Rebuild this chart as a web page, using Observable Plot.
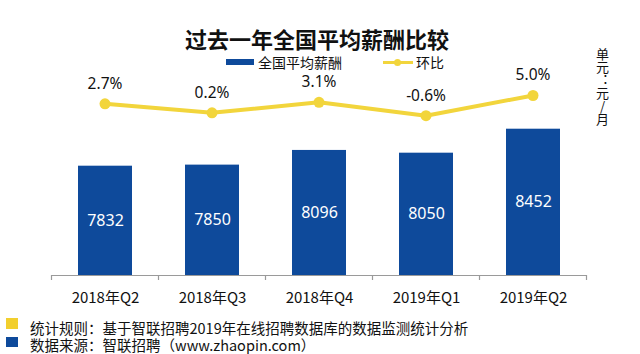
<!DOCTYPE html>
<html><head><meta charset="utf-8">
<script src="https://cdn.jsdelivr.net/npm/d3@7"></script>
<script src="https://cdn.jsdelivr.net/npm/@observablehq/plot@0.6"></script>
<style>
body{margin:0;background:#fff;}
#wrap{position:relative;width:640px;height:354px;overflow:hidden;font-family:"Noto Sans CJK SC","Noto Sans",sans-serif;color:#111;}
#wrap svg{position:absolute;left:0;top:0;background:transparent;}
.abs{position:absolute;white-space:nowrap;line-height:1;}
</style></head>
<body><div id="wrap"></div>
<script>
const categories = ["2018年Q2","2018年Q3","2018年Q4","2019年Q1","2019年Q2"];
const salary = [7832, 7850, 8096, 8050, 8452];
const growth = [2.7, 0.2, 3.1, -0.6, 5.0];
const titleText = "过去一年全国平均薪酬比较";
const seriesNames = ["全国平均薪酬", "环比"];
const unitText = "单元：元/月";
const notes = ["统计规则：基于智联招聘2019年在线招聘数据库的数据监测统计分析", "数据来源：智联招聘（www.zhaopin.com）"];

const BLUE = "#0e4a9b", YELLOW = "#f2d53c";
const W = 640, H = 354, ML = 51, MR = 54;
const yBase = 6000;
const rows = categories.map((c, i) => ({cat: c, i, salary: salary[i], growth: growth[i]}));
const wrap = document.getElementById("wrap");

// bars
const bars = Plot.plot({
  width: W, height: H, marginLeft: ML, marginRight: MR, marginTop: 96, marginBottom: 79,
  style: {background: "transparent", fontFamily: '"Noto Sans CJK SC","Noto Sans",sans-serif'},
  x: {domain: categories, paddingInner: 0.5, paddingOuter: 0.25, label: null},
  y: {domain: [yBase, 9000], axis: null},
  marks: [
    Plot.barY(rows, {x: "cat", y1: yBase, y2: "salary", fill: BLUE}),
    Plot.text(rows, {x: "cat", y: d => (yBase + d.salary) / 2, text: d => String(d.salary), fill: "#fff", fontSize: 16, fontFamily: '"Noto Sans","Open Sans",sans-serif'}),
    Plot.ruleY([yBase], {stroke: "#9a9a9a", strokeWidth: 1.2}),
    Plot.axisX({tickSize: 0, tickPadding: 17, fontSize: 15, fill: "#111", label: null})
  ]
});
wrap.appendChild(bars);

// boundary ticks
const ticks = Plot.plot({
  width: W, height: H, marginLeft: ML, marginRight: MR, marginTop: 275, marginBottom: 74,
  style: {background: "transparent"},
  x: {domain: [0, categories.length], axis: null},
  y: {axis: null},
  marks: [Plot.tickX(d3.range(categories.length + 1), {x: d => d, stroke: "#9a9a9a", strokeWidth: 1.2})]
});
wrap.appendChild(ticks);

// growth line
const line = Plot.plot({
  width: W, height: H, marginLeft: ML, marginRight: MR, marginTop: 95, marginBottom: H - 116.6,
  style: {background: "transparent"},
  x: {domain: [0, categories.length], axis: null},
  y: {domain: [-1, 5], axis: null},
  marks: [
    Plot.line(rows, {x: d => d.i + 0.5, y: "growth", stroke: YELLOW, strokeWidth: 4}),
    Plot.dot(rows, {x: d => d.i + 0.5, y: "growth", r: 5.5, fill: YELLOW}),
    Plot.text(rows, {x: d => d.i + 0.5, y: "growth", text: d => d.growth.toFixed(1) + "%", dy: -20, fontSize: 15.5, fill: "#111", fontFamily: '"Noto Sans","Open Sans",sans-serif'})
  ]
});
wrap.appendChild(line);

function add(html, css) {
  const d = document.createElement("div");
  d.className = "abs";
  d.innerHTML = html;
  Object.assign(d.style, css);
  wrap.appendChild(d);
  return d;
}
// title
add(titleText, {left: "0px", width: "634px", textAlign: "center", top: "27px", fontSize: "22px", fontWeight: "bold", color: "#111"});
// legend
add("", {left: "226px", top: "59px", width: "28px", height: "6px", background: BLUE});
add(seriesNames[0], {left: "258px", top: "55px", fontSize: "14px"});
add("", {left: "383px", top: "60.5px", width: "30px", height: "3px", background: YELLOW});
add("", {left: "394px", top: "58.5px", width: "7px", height: "7px", borderRadius: "50%", background: YELLOW});
add(seriesNames[1], {left: "416px", top: "55px", fontSize: "14px"});
// unit (vertical)
add(unitText, {left: "596px", top: "48px", fontSize: "13px", writingMode: "vertical-rl", textOrientation: "upright"});
// footer
add("", {left: "6px", top: "318px", width: "12px", height: "11px", background: "#f2cf2e"});
add("", {left: "6px", top: "337px", width: "12px", height: "10px", background: BLUE});
add(notes[0], {left: "30px", top: "321px", fontSize: "14.5px"});
add(notes[1], {left: "30px", top: "337.5px", fontSize: "14.5px"});
</script></body></html>
